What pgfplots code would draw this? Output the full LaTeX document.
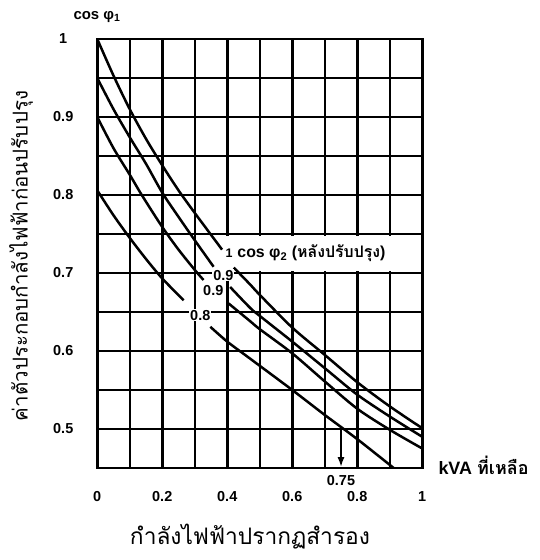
\documentclass[border=0pt]{standalone}
\usepackage{fontspec}
\setmainfont{Liberation Sans}
\newfontfamily\thai[Script=Thai]{Loma}
\usepackage{graphicx}
\usepackage{pgfplots}
\pgfplotsset{compat=1.18}
\usetikzlibrary{arrows.meta}
\pgfplotstableread{
x y
0 1.000
0.05 0.953
0.1 0.910
0.15 0.872
0.2 0.838
0.25 0.806
0.3 0.777
0.35 0.749
0.384 0.730
}\cA
\pgfplotstableread{
x y
0.42 0.707
0.471 0.685
0.5 0.672
0.6 0.630
0.7 0.595
0.8 0.560
0.9 0.529
1.0 0.501
}\cB
\pgfplotstableread{
x y
0 0.950
0.05 0.910
0.1 0.874
0.15 0.840
0.2 0.803
0.25 0.772
0.3 0.742
0.358 0.708
}\dA
\pgfplotstableread{
x y
0.409 0.682
0.471 0.655
0.5 0.645
0.6 0.612
0.7 0.578
0.8 0.544
0.9 0.516
1.0 0.490
}\dB
\pgfplotstableread{
x y
0 0.900
0.05 0.860
0.1 0.826
0.137 0.800
0.2 0.759
0.25 0.730
0.3 0.704
0.327 0.691
}\eA
\pgfplotstableread{
x y
0.404 0.661
0.471 0.638
0.5 0.628
0.6 0.597
0.7 0.561
0.8 0.526
0.9 0.499
1.0 0.475
}\eB
\pgfplotstableread{
x y
0 0.806
0.05 0.774
0.1 0.745
0.15 0.718
0.2 0.693
0.266 0.665
}\fA
\pgfplotstableread{
x y
0.348 0.631
0.4 0.612
0.471 0.590
0.6 0.550
0.7 0.518
0.8 0.487
0.912 0.450
}\fB
\begin{document}
\begin{tikzpicture}[x=1bp,y=1bp]
\path[use as bounding box] (-97,-92) rectangle (443,468);
\begin{axis}[
  at={(0.25bp,0)}, anchor=south west,
  scale only axis, width=325bp, height=429bp,
  xmin=0, xmax=1, ymin=0.45, ymax=1,
  xtick={0,0.1,0.2,0.3,0.4,0.5,0.6,0.7,0.8,0.9,1},
  xticklabels={0,,0.2,,0.4,,0.6,,0.8,,1},
  ytick={0.45,0.5,0.55,0.6,0.65,0.7,0.75,0.8,0.85,0.9,0.95,1},
  yticklabels={,0.5,,0.6,,0.7,,0.8,,0.9,,1},
  xmajorgrids, ymajorgrids,
  major grid style={black, line width=2.5bp},
  major tick length=0pt,
  tick style={draw=none},
  axis line style={black, line width=2.8bp},
  xticklabel style={font=\fontsize{14.5}{16}\selectfont\bfseries, anchor=center, yshift=-29bp},
  yticklabel style={font=\fontsize{14.5}{16}\selectfont\bfseries, anchor=center, xshift=-34bp},
  clip mode=individual,
  every axis plot/.append style={black, line width=2.5bp, no markers},
]
\fill[white] (axis cs:0.392,0.703) rectangle (axis cs:0.935,0.747);
\addplot[smooth] table {\cA};
\addplot[smooth] table {\cB};
\addplot[smooth] table {\dA};
\addplot[smooth] table {\dB};
\addplot[smooth] table {\eA};
\addplot[smooth] table {\eB};
\addplot[smooth] table {\fA};
\addplot[smooth] table {\fB};
\addplot[line width=2bp, -{Latex[length=10bp,width=7bp]}] coordinates {(0.75,0.503) (0.75,0.451)};
\node[fill=white, inner sep=1bp, font=\fontsize{14.5}{16}\selectfont\bfseries] at (axis cs:0.388,0.697) {0.9};
\node[fill=white, inner sep=1bp, font=\fontsize{14.5}{16}\selectfont\bfseries] at (axis cs:0.357,0.677) {0.9};
\node[fill=white, inner sep=1bp, font=\fontsize{14.5}{16}\selectfont\bfseries] at (axis cs:0.317,0.646) {0.8};
\node[anchor=west, inner sep=0pt, font=\fontsize{12.5}{14}\selectfont\bfseries] at (axis cs:0.394,0.725) {1\hspace{5bp}\resizebox{148bp}{!}{cos φ\textsubscript{2} ({\thai\bfseries หลังปรับปรุง})}};
\end{axis}
\node[font=\fontsize{15}{17}\selectfont\bfseries] at (0,451) {cos φ\textsubscript{1}};
\node[anchor=west, font=\fontsize{18}{20}\selectfont\bfseries] at (338,3) {kVA {\thai\bfseries ที่เหลือ}};
\node[font=\fontsize{14.5}{16}\selectfont\bfseries] at (244,-13) {0.75};
\node at (153,-69) {\resizebox{240bp}{!}{\thai กำลังไฟฟ้าปรากฏสำรอง}};
\node[rotate=90] at (-76,212) {\resizebox{330bp}{!}{\thai ค่าตัวประกอบกำลังไฟฟ้าก่อนปรับปรุง}};
\end{tikzpicture}
\end{document}
